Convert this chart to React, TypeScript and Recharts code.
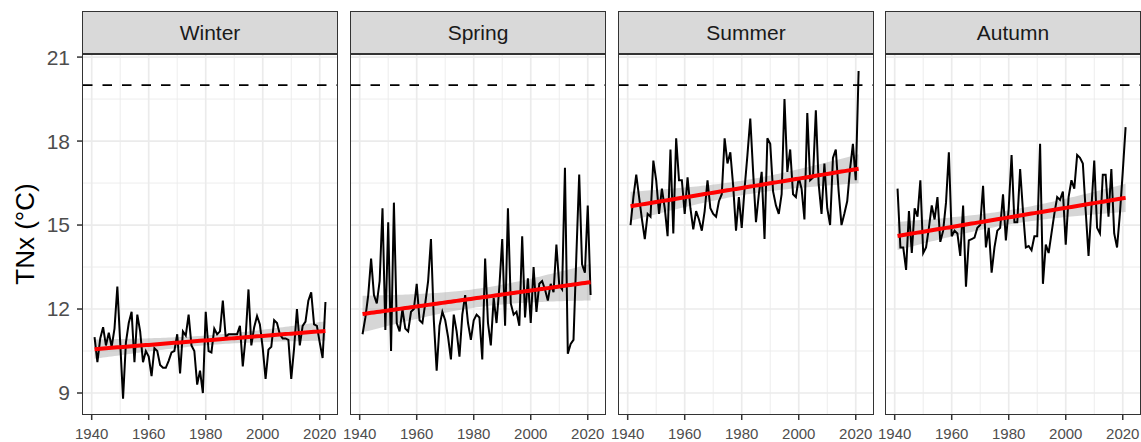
import React from "react";
import {
  ComposedChart,
  Line,
  Area,
  XAxis,
  YAxis,
  CartesianGrid,
  ReferenceLine,
} from "recharts";

// Seasonal TNx (°C), one value per year starting 1941
const FIRST_YEAR = 1941;

const WINTER = [
  11.0, 10.1, 10.95, 11.35, 10.7, 11.15, 10.65, 11.3, 12.8, 10.8,
  8.8, 10.8, 11.5, 11.9, 10.1, 11.8, 11.2, 10.1, 10.5, 10.3,
  9.6, 10.6, 10.5, 10.0, 9.9, 9.9, 10.15, 10.45, 10.5, 11.1,
  9.7, 11.2, 11.05, 11.8, 10.7, 10.5, 9.3, 9.8, 9.0, 11.9,
  10.5, 10.45, 11.3, 11.1, 11.2, 12.3, 11.0, 11.1, 11.1, 11.1,
  11.1, 11.4, 9.95, 11.0, 12.7, 10.7, 11.35, 11.75, 11.45, 10.6,
  9.5, 10.55, 10.65, 11.6, 11.5, 11.1, 10.95, 10.95, 10.9, 9.5,
  10.6, 12.0, 10.7, 11.4, 11.55, 12.3, 12.6, 11.45, 11.4, 10.8,
  10.25, 12.25,
];

const SPRING = [
  11.1, 11.7, 12.5, 13.8, 12.5, 12.2, 13.0, 15.6, 11.25, 15.1,
  10.5, 15.8, 11.5, 11.2, 12.0, 11.3, 11.2, 11.9, 12.0, 12.9,
  11.6, 11.5, 12.2, 13.0, 14.5, 11.6, 9.8, 11.4, 11.9, 11.6,
  11.0, 10.2, 11.8, 11.2, 10.3, 11.8, 12.5, 11.5, 10.9, 11.6,
  11.8, 11.7, 10.2, 13.8, 11.5, 10.7, 12.4, 11.5, 12.8, 14.5,
  11.4, 15.6, 12.2, 11.8, 11.9, 11.4, 14.6, 11.7, 13.1, 11.5,
  13.5, 11.9, 12.9, 13.0, 12.7, 12.3, 12.9, 12.6, 14.3, 12.85,
  12.7, 17.05, 10.4, 10.75, 10.9, 13.9, 16.8, 13.6, 13.3, 15.7,
  12.5,
];

const SUMMER = [
  15.0, 16.0, 16.8, 16.0, 15.2, 14.5, 15.4, 15.3, 17.3, 16.6,
  15.4, 16.3, 15.6, 14.6, 17.7, 14.7, 18.1, 16.6, 16.6, 15.4,
  16.7, 15.6, 14.85, 15.5, 15.2, 14.8, 15.5, 16.6, 15.6, 15.4,
  15.3, 15.85, 16.1, 18.1, 17.2, 17.6, 16.4, 14.8, 16.0, 14.9,
  16.3, 17.5, 18.8, 16.9, 15.1, 16.1, 16.9, 14.5, 18.1, 17.9,
  16.2, 15.7, 15.4, 16.1, 19.5, 16.9, 17.7, 16.1, 16.0, 16.7,
  16.3, 15.2, 19.0, 16.6, 16.7, 19.1, 16.45, 15.4, 17.2, 15.6,
  15.0, 17.4, 17.7, 16.2, 15.0, 15.4, 15.85, 17.0, 17.9, 16.6,
  20.5,
];

const AUTUMN = [
  16.3, 14.2, 14.2, 13.4, 15.5, 14.0, 15.6, 15.3, 16.6, 14.0,
  14.2, 14.9, 15.7, 15.2, 16.0, 14.4, 14.8, 15.8, 17.6, 14.6,
  14.8, 14.7, 13.9, 15.7, 12.8, 14.45, 14.5, 14.55, 14.9, 15.0,
  16.4, 14.2, 14.9, 13.3, 14.2, 14.8, 14.9, 16.1, 14.45, 15.6,
  17.5, 15.1, 15.1, 17.0, 15.5, 14.2, 14.25, 14.1, 14.6, 14.6,
  17.9, 12.9, 14.3, 14.0, 14.7, 15.4, 16.0, 15.9, 16.2, 14.3,
  16.0, 16.6, 16.3, 17.5, 17.4, 17.2, 15.5, 13.9, 15.6, 17.3,
  14.9, 14.7, 16.8, 16.8, 15.3, 17.0, 14.7, 14.2, 15.4, 16.9,
  18.5,
];

const SEASONS = ["Winter", "Spring", "Summer", "Autumn"];
const SERIES = [WINTER, SPRING, SUMMER, AUTUMN];

const THRESHOLD = 20;
const X_TICKS = [1940, 1960, 1980, 2000, 2020];
const X_MINOR = [1950, 1970, 1990, 2010];
const Y_TICKS = [9, 12, 15, 18, 21];
const Y_MINOR = [10.5, 13.5, 16.5, 19.5];

const X_DOMAIN = [1936.95, 2026.05];
const Y_DOMAIN = [8.25, 21.11];

// layout
const PANEL_LEFT = [83, 351, 619, 886];
const PANEL_W = 254;
const Y_AXIS_W = 83;
const SIDE = 20; // room so edge tick labels are not clipped
const PLOT_TOP = 54;
const PLOT_H = 360;
const STRIP_TOP = 12;
const CHART_H = 442;
const FONT = "'Liberation Sans', Arial, Helvetica, sans-serif";
const T95 = 1.99; // t quantile, ~80 df

// linear fit + 95% confidence band, like geom_smooth(method = "lm")
function buildRows(values: number[]) {
  const years = values.map((_, i) => FIRST_YEAR + i);
  const n = values.length;
  const xbar = years.reduce((a, b) => a + b, 0) / n;
  const ybar = values.reduce((a, b) => a + b, 0) / n;
  let sxx = 0;
  let sxy = 0;
  years.forEach((x, i) => {
    sxx += (x - xbar) ** 2;
    sxy += (x - xbar) * (values[i] - ybar);
  });
  const slope = sxy / sxx;
  const icpt = ybar - slope * xbar;
  let sse = 0;
  years.forEach((x, i) => {
    sse += (values[i] - (icpt + slope * x)) ** 2;
  });
  const s = Math.sqrt(sse / (n - 2));
  return years.map((year, i) => {
    const fit = icpt + slope * year;
    const se = s * Math.sqrt(1 / n + (year - xbar) ** 2 / sxx);
    return {
      year,
      value: values[i],
      fit,
      band: [fit - T95 * se, fit + T95 * se],
    };
  });
}

function Panel({ index }: { index: number }) {
  const showY = index === 0;
  const rows = buildRows(SERIES[index]);
  const left = PANEL_LEFT[index];
  const leftRoom = showY ? Y_AXIS_W : SIDE;
  const chartLeft = left - leftRoom;
  const chartW = PANEL_W + leftRoom + SIDE;

  return (
    <>
      <div style={{ position: "absolute", left: chartLeft, top: 0 }}>
        <ComposedChart
          width={chartW}
          height={CHART_H}
          data={rows}
          margin={{ top: PLOT_TOP, right: SIDE, bottom: 0, left: showY ? 0 : SIDE }}
        >
          <CartesianGrid
            stroke="#EBEBEB"
            strokeWidth={0.9}
            horizontalValues={Y_MINOR}
            verticalValues={X_MINOR}
          />
          <CartesianGrid
            stroke="#EBEBEB"
            strokeWidth={1.7}
            horizontalValues={Y_TICKS}
            verticalValues={X_TICKS}
          />
          <XAxis
            type="number"
            dataKey="year"
            domain={X_DOMAIN}
            ticks={X_TICKS}
            interval={0}
            allowDataOverflow
            height={28}
            axisLine={false}
            tickSize={6}
            tickMargin={8}
            tickLine={{ stroke: "#333333", strokeWidth: 1.5 }}
            tick={{ fontSize: 15, fill: "#4D4D4D", fontFamily: FONT }}
          />
          <YAxis
            type="number"
            domain={Y_DOMAIN}
            ticks={Y_TICKS}
            interval={0}
            allowDataOverflow
            hide={!showY}
            width={Y_AXIS_W}
            axisLine={false}
            tickSize={6}
            tickMargin={7}
            tickLine={{ stroke: "#333333", strokeWidth: 1.5 }}
            tick={{ fontSize: 21, fill: "#4D4D4D", fontFamily: FONT }}
          />
          <ReferenceLine
            y={THRESHOLD}
            stroke="#000000"
            strokeWidth={1.7}
            strokeDasharray="9.5 10"
          />
          <Line
            dataKey="value"
            stroke="#000000"
            strokeWidth={2}
            dot={false}
            activeDot={false}
            isAnimationActive={false}
          />
          <Area
            dataKey="band"
            stroke="none"
            fill="#999999"
            fillOpacity={0.4}
            activeDot={false}
            isAnimationActive={false}
          />
          <Line
            dataKey="fit"
            stroke="#FF0000"
            strokeWidth={4}
            dot={false}
            activeDot={false}
            isAnimationActive={false}
          />
        </ComposedChart>
      </div>
      {/* facet strip */}
      <div
        style={{
          position: "absolute",
          left: left - 0.75,
          top: STRIP_TOP - 0.75,
          width: PANEL_W + 1.5,
          height: PLOT_TOP - STRIP_TOP + 1.5,
          boxSizing: "border-box",
          background: "#D9D9D9",
          border: "1.5px solid #333333",
          display: "flex",
          alignItems: "center",
          justifyContent: "center",
          fontFamily: FONT,
          fontSize: 21,
          color: "#1A1A1A",
        }}
      >
        {SEASONS[index]}
      </div>
      {/* panel border */}
      <div
        style={{
          position: "absolute",
          left: left - 0.75,
          top: PLOT_TOP - 0.75,
          width: PANEL_W + 1.5,
          height: PLOT_H + 1.5,
          boxSizing: "border-box",
          border: "1.5px solid #333333",
          pointerEvents: "none",
        }}
      />
    </>
  );
}

export default function App() {
  return (
    <div
      style={{
        position: "absolute",
        left: 0,
        top: 0,
        width: 1141,
        height: 442,
        background: "#FFFFFF",
        overflow: "hidden",
      }}
    >
      {SEASONS.map((s, i) => (
        <Panel key={s} index={i} />
      ))}
      <div
        style={{
          position: "absolute",
          left: 25,
          top: PLOT_TOP + PLOT_H / 2,
          transform: "translate(-50%, -50%) rotate(-90deg)",
          whiteSpace: "nowrap",
          fontFamily: FONT,
          fontSize: 26,
          color: "#000000",
        }}
      >
        TNx (°C)
      </div>
    </div>
  );
}
